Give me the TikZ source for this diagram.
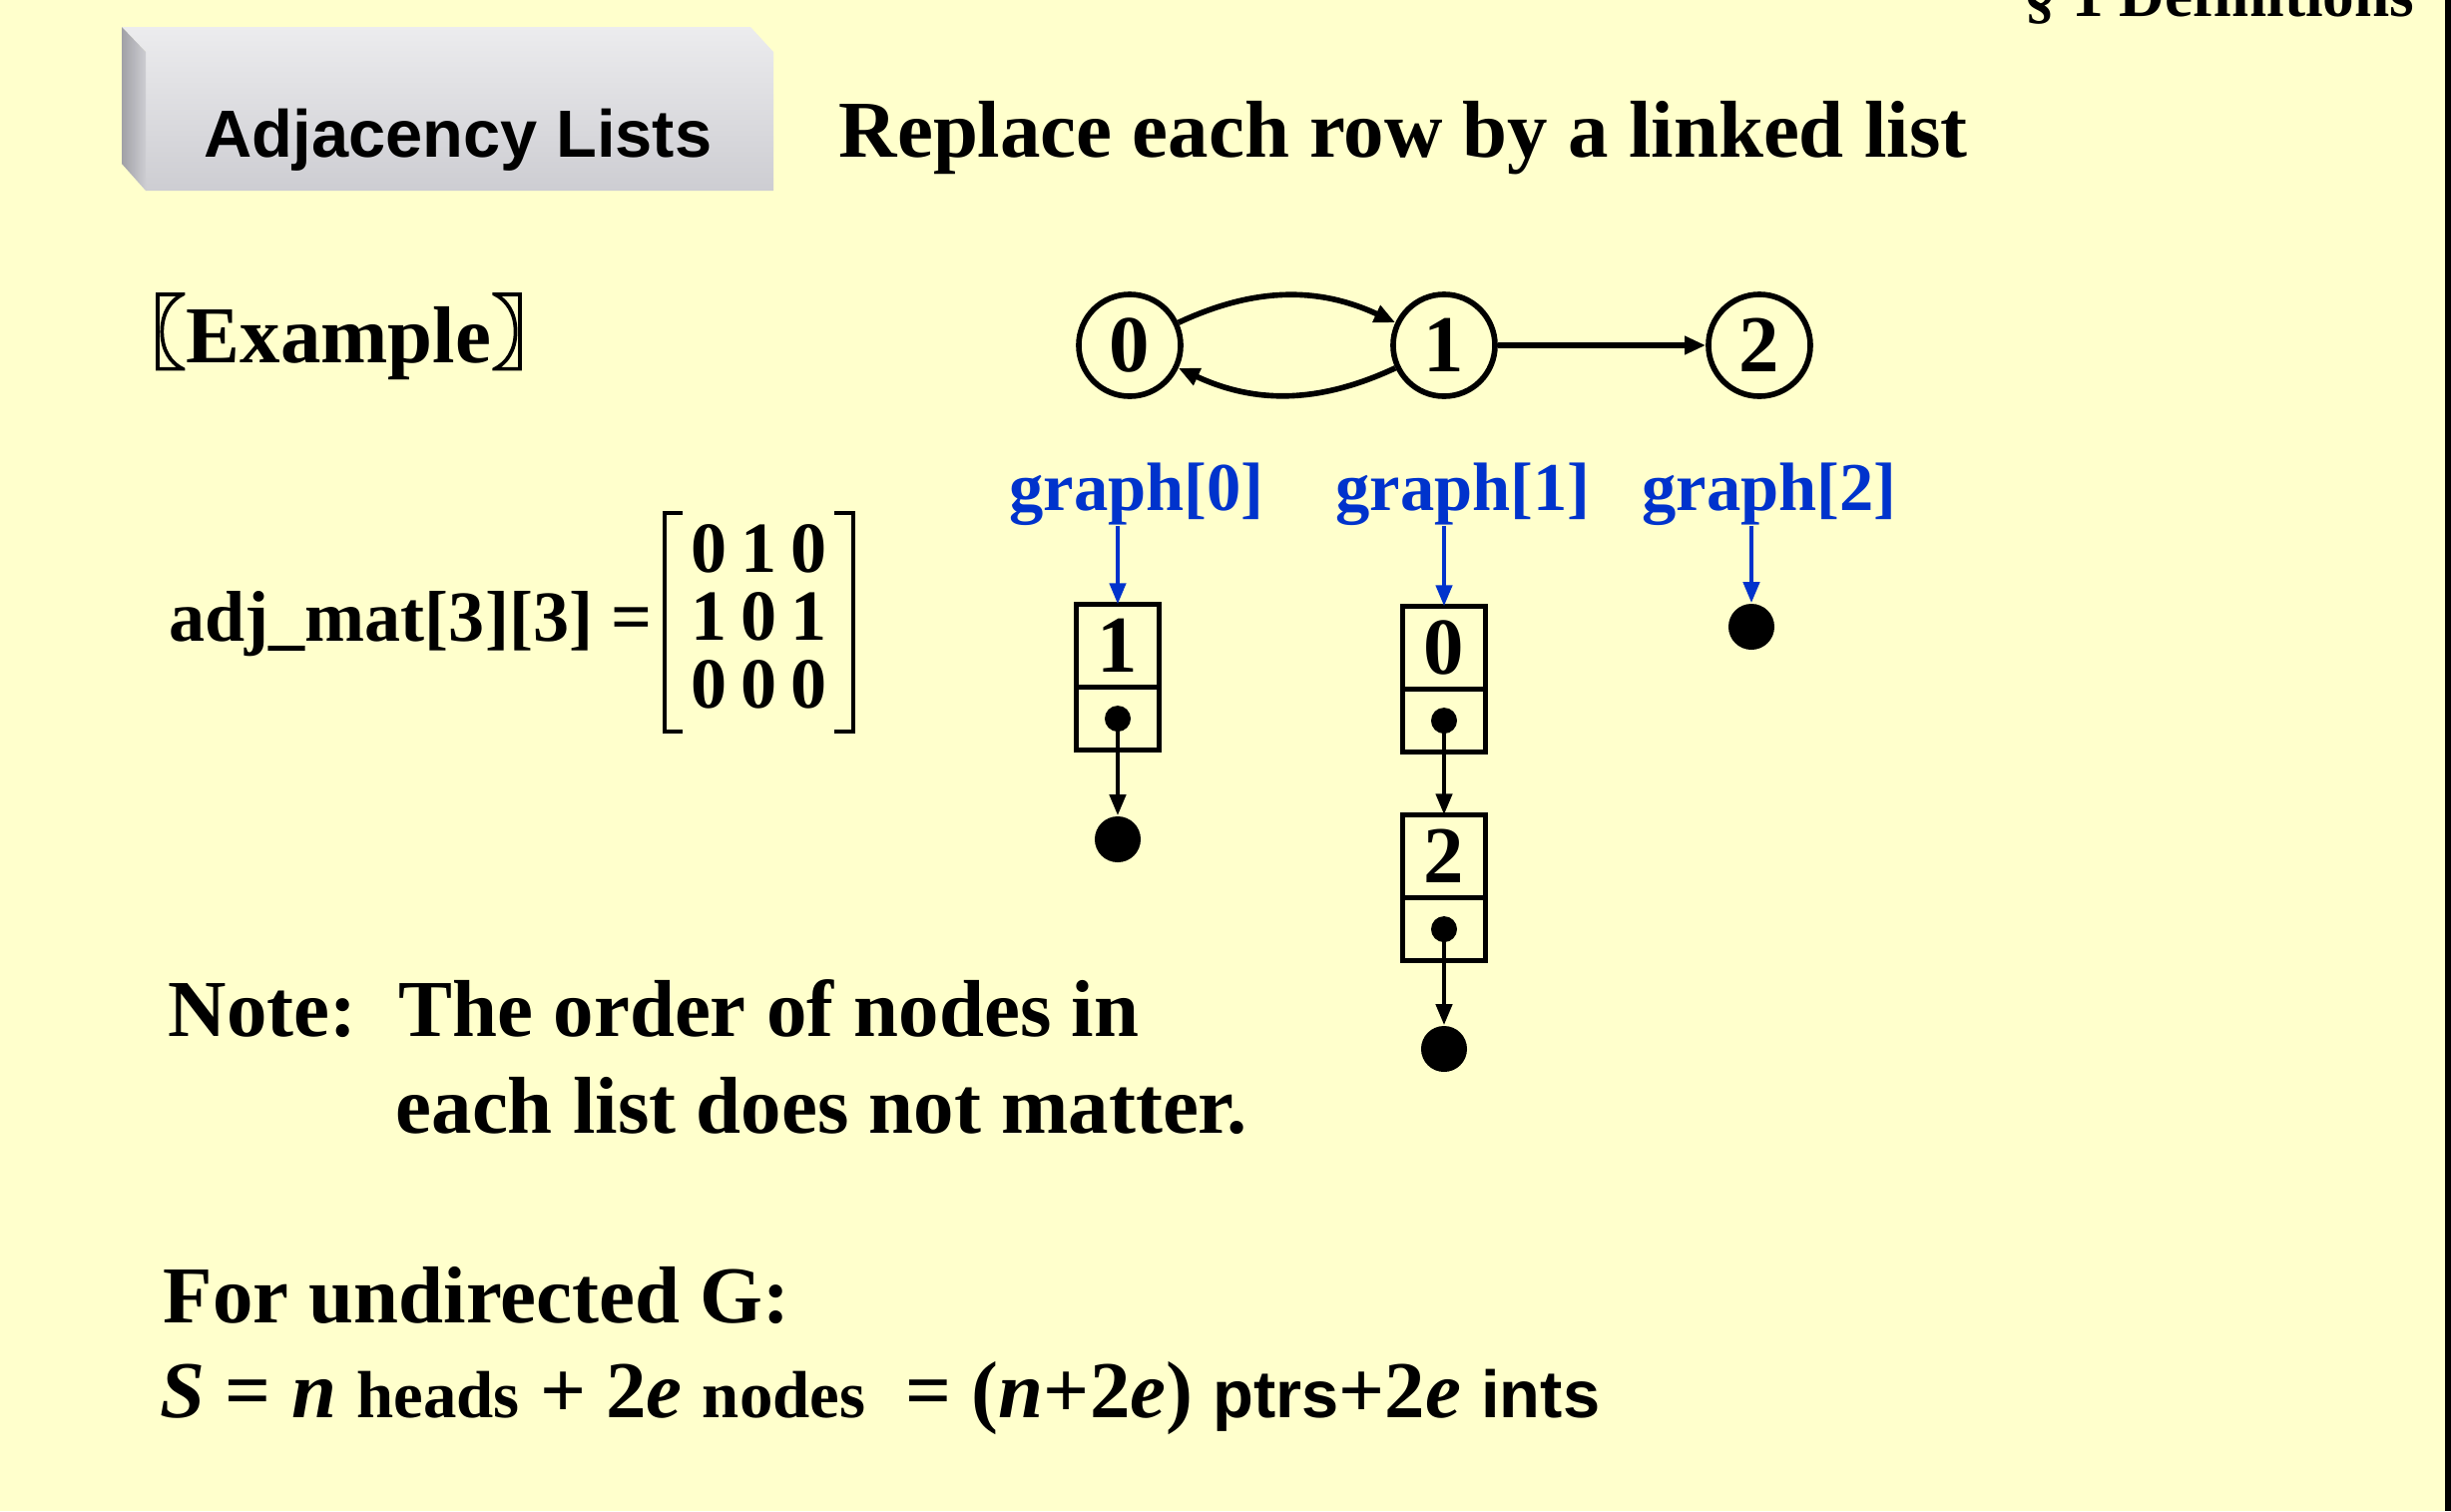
\documentclass[tikz,border=0pt]{standalone}
\usepackage{fontspec}
\setmainfont{Liberation Serif}
\setsansfont{Liberation Sans}
\newfontfamily\cjk[FakeBold=2]{Noto Sans CJK SC}
\usetikzlibrary{arrows.meta, positioning, shapes.geometric}
\definecolor{slidebg}{RGB}{255,255,204}
\definecolor{ptrblue}{RGB}{0,51,204}
\definecolor{marblelight}{RGB}{236,236,238}
\definecolor{marbledark}{RGB}{205,205,210}
\definecolor{marbleside}{RGB}{160,160,166}
\newcommand{\slidefont}{\fontsize{23}{28}\selectfont\bfseries}
\newcommand{\headfont}{\fontsize{19.5}{24}\selectfont\bfseries}
\newcommand{\matfont}{\fontsize{20.5}{25}\selectfont\bfseries}
\newcommand{\unitfont}{\fontsize{19}{23}\selectfont\bfseries}

\begin{document}
\begin{tikzpicture}[
    x=0.01cm, y=0.01cm,
    txt/.style={inner sep=0pt, anchor=base west, font=\slidefont},
    vertex/.style={circle, draw, line width=1.6pt, minimum size=1.02cm, inner sep=0pt, font=\slidefont},
    edge/.style={-{Triangle[length=6pt,width=5pt]}, line width=1.6pt},
    head/.style={inner sep=0pt, anchor=base, text=ptrblue, font=\headfont},
    headptr/.style={-{Triangle[length=6pt,width=4.5pt]}, line width=1.3pt, draw=ptrblue, fill=ptrblue},
    valcell/.style={rectangle, draw, line width=1.6pt, outer sep=0pt, minimum width=0.83cm, minimum height=0.83cm, inner sep=0pt, font=\slidefont},
    ptrcell/.style={valcell, minimum height=0.63cm},
    ptrdot/.style={circle, fill, inner sep=0pt, minimum size=0.26cm},
    nulldot/.style={circle, fill, inner sep=0pt, minimum size=0.46cm},
    link/.style={-{Triangle[length=6pt,width=4.5pt]}, line width=1.3pt},
    entry/.style={inner sep=0pt, anchor=base, font=\matfont},
    bracket/.style={line width=1pt}
]
\useasboundingbox (0,0) rectangle (2456,-1514);
\fill[slidebg] (0,0) rectangle (2456,-1514);
\fill[black] (2450,0) rectangle (2456,-1514);

% marble title block
\shade[top color=marblelight, bottom color=marbledark] (122,-27) -- (752,-27) -- (775,-52) -- (775,-191) -- (146,-191) -- (146,-52) -- cycle;
\shade[left color=marbleside, right color=marbledark] (122,-27) -- (146,-52) -- (146,-191) -- (122,-164) -- cycle;
\node[inner sep=0pt, anchor=base, font=\sffamily\bfseries\fontsize{19}{23}\selectfont] (title) at (459,-157) {Adjacency Lists};

\node[inner sep=0pt, anchor=base east, font=\fontsize{18}{22}\selectfont\bfseries] (section) at (2420,-16) {§ 1 Definitions};
\node[txt] (headline) at (840,-157) {Replace each row by a linked list};
\node[txt] (example) at (152,-363) {\hspace{-0.58em}{\cjk 〖}Example{\cjk 〗}};

% the graph
\node[vertex] (c0) at (1132,-346) {0};
\node[vertex] (c1) at (1447,-346) {1};
\node[vertex] (c2) at (1763,-346) {2};
\draw[edge] (c0) to[out=25,in=155] (c1);
\draw[edge] (c1) to[out=205,in=-25] (c0);
\draw[edge] (c1) -- (c2);

% adjacency matrix
\node[txt, font=\matfont] (adj) at (169,-642) {adj\_mat[3][3] =};
\foreach \row [count=\r] in {{0,1,0},{1,0,1},{0,0,0}} {
  \foreach \val [count=\c] in \row {
    \node[entry] (m-\r-\c) at (661+50*\c,-505-68*\r) {\val};
  }
}
\draw[bracket] (684,-514) -- (666,-514) -- (666,-733) -- (684,-733);
\draw[bracket] (836,-514) -- (855,-514) -- (855,-733) -- (836,-733);

% list heads
\node[head] (g0) at (1139,-511) {graph[0]};
\node[head] (g1) at (1466,-511) {graph[1]};
\node[head] (g2) at (1773,-511) {graph[2]};

% list of vertex 0
\node[valcell] (v0) at (1120,-647) {1};
\node[ptrcell, below=0pt of v0] (p0) {};
\node[ptrdot] (d0) at (p0.center) {};
\node[nulldot] (null0) at (1120,-841) {};

% list of vertex 1
\node[valcell] (v10) at (1447,-649) {0};
\node[ptrcell, below=0pt of v10] (p10) {};
\node[ptrdot] (d10) at (p10.center) {};
\node[valcell] (v11) at (1447,-858) {2};
\node[ptrcell, below=0pt of v11] (p11) {};
\node[ptrdot] (d11) at (p11.center) {};
\node[nulldot] (null1) at (1447,-1051) {};

% list of vertex 2
\node[nulldot] (null2) at (1755,-628) {};

\draw[headptr] (g0.south -| v0) -- (v0);
\draw[headptr] (g1.south -| v10) -- (v10);
\draw[headptr] (g2.south -| null2) -- (null2);
\draw[link] (d0.center) -- (null0);
\draw[link] (d10.center) -- (v11);
\draw[link] (d11.center) -- (null1);

% notes
\node[txt] (note) at (168,-1038) {Note:};
\node[txt] (note1) at (399,-1038) {The order of nodes in};
\node[txt] (note2) at (396,-1135) {each list does not matter.};
\node[txt] (undir) at (163,-1325) {For undirected G:};
\node[txt] (cost) at (160,-1420) {\textit{S} = \textit{n} {\unitfont heads} + 2\textit{e} {\unitfont nodes} ~= (\textit{n}+2\textit{e}) {\sffamily\unitfont ptrs}+2\textit{e} {\sffamily\unitfont ints}};
\end{tikzpicture}
\end{document}
